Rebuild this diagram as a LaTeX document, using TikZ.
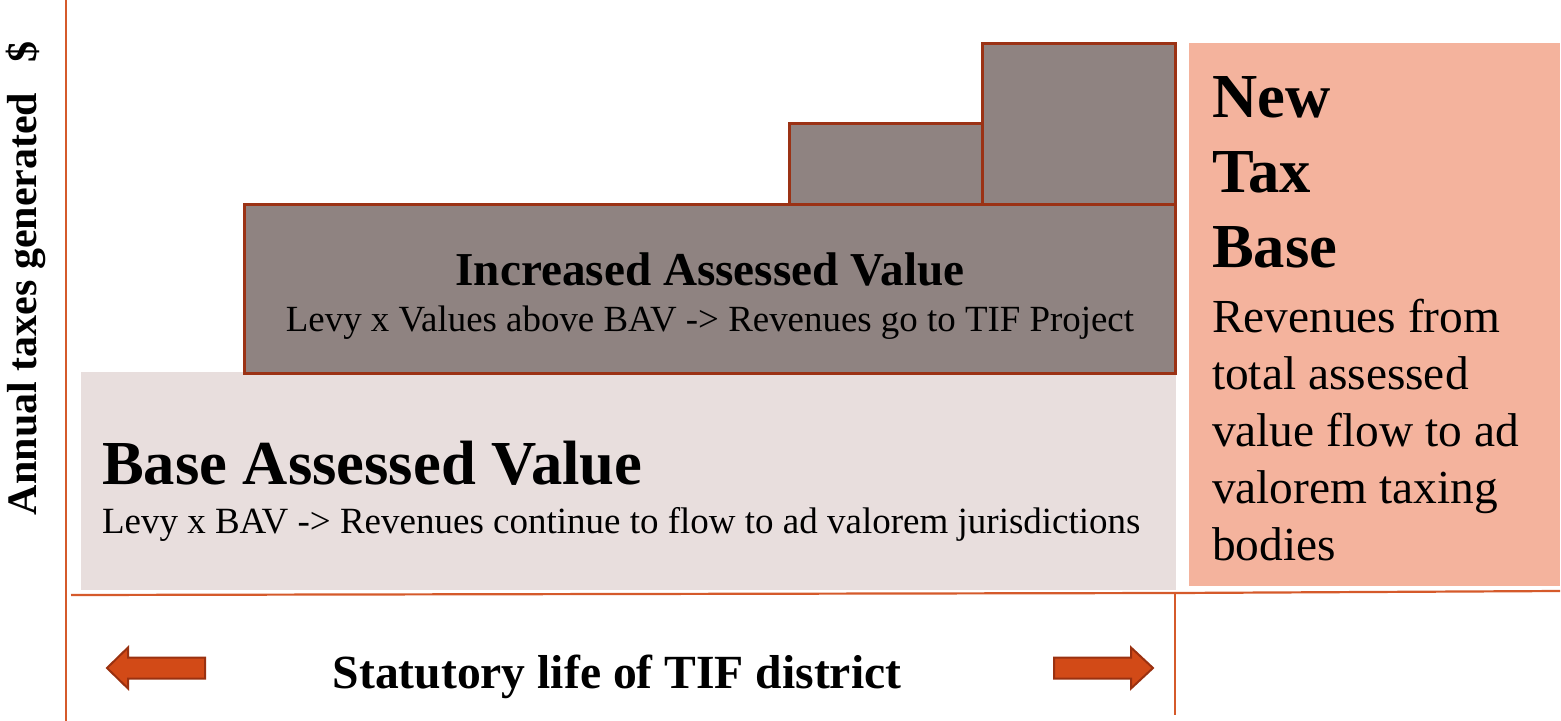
\documentclass[tikz,border=0pt]{standalone}
\usepackage{fontspec}
\setmainfont{Liberation Serif}
\definecolor{axisc}{HTML}{D55A2B}
\definecolor{boxborder}{HTML}{9B3215}
\definecolor{grayfill}{HTML}{8F8381}
\definecolor{lightfill}{HTML}{E8DEDD}
\definecolor{salmon}{HTML}{F4B39D}
\definecolor{arrowfill}{HTML}{D24A17}
\definecolor{arrowdraw}{HTML}{9A3110}
\begin{document}
\begin{tikzpicture}[x=0.5pt,y=-0.5pt,
  axisline/.style={draw=axisc,line width=1.1pt},
  incbox/.style={fill=grayfill,draw=boxborder,line width=1.5pt},
  basebox/.style={fill=lightfill},
  newbox/.style={fill=salmon},
  bigarrow/.style={fill=arrowfill,draw=arrowdraw,line width=1pt,line join=miter},
  txt/.style={inner sep=0pt,outer sep=0pt}]
\useasboundingbox (0,0) rectangle (1561,721);
% boxes
\path[basebox] (81,372) rectangle (1176,590);
\path[incbox] (244,205) rectangle (1175,373);
\path[incbox] (789,124) rectangle (982,205);
\path[incbox] (982,44) rectangle (1175,205);
\path[newbox] (1189,43) rectangle (1560,586);
% axis lines
\coordinate (axT) at (66,0);
\coordinate (axB) at (66,721);
\draw[axisline] (axT) -- (axB);
\coordinate (hL) at (71,595);
\coordinate (hM) at (1175,593);
\coordinate (hR) at (1560,591);
\draw[axisline] (hL) -- (hM);
\draw[axisline] (hM) -- (hR);
\coordinate (vB) at (1175,715);
\draw[axisline] (hM) -- (vB);
% arrows
\path[bigarrow] (107,668) -- (128,647.5) -- (128,657.5) -- (205,657.5) -- (205,678.5) -- (128,678.5) -- (128,688.5) -- cycle;
\path[bigarrow] (1153,668) -- (1131,647.5) -- (1131,657.5) -- (1054,657.5) -- (1054,678.5) -- (1131,678.5) -- (1131,688.5) -- cycle;
% texts
\node[txt,anchor=base] (inc) at (710,286) {\fontsize{23.6pt}{28pt}\selectfont\bfseries Increased Assessed Value};
\node[txt,anchor=base] (incsub) at (710,331) {\fontsize{18.45pt}{22pt}\selectfont Levy x Values above BAV -> Revenues go to TIF Project};
\node[txt,anchor=base west] (base) at (102,484) {\fontsize{31.3pt}{37pt}\selectfont\bfseries Base Assessed Value};
\node[txt,anchor=base west] (basesub) at (102,533) {\fontsize{18.5pt}{22pt}\selectfont Levy x BAV -> Revenues continue to flow to ad valorem jurisdictions};
\node[txt,anchor=base west] (n1) at (1212,118) {\fontsize{31.3pt}{37pt}\selectfont\bfseries New};
\node[txt,anchor=base west] (n2) at (1212,193) {\fontsize{31.3pt}{37pt}\selectfont\bfseries Tax};
\node[txt,anchor=base west] (n3) at (1212,268) {\fontsize{31.3pt}{37pt}\selectfont\bfseries Base};
\node[txt,anchor=base west] (r1) at (1212,332) {\fontsize{23.7pt}{28pt}\selectfont Revenues from};
\node[txt,anchor=base west] (r2) at (1212,389) {\fontsize{23.7pt}{28pt}\selectfont total assessed};
\node[txt,anchor=base west] (r3) at (1212,446) {\fontsize{23.7pt}{28pt}\selectfont value flow to ad};
\node[txt,anchor=base west] (r4) at (1212,503) {\fontsize{23.7pt}{28pt}\selectfont valorem taxing};
\node[txt,anchor=base west] (r5) at (1212,560) {\fontsize{23.7pt}{28pt}\selectfont bodies};
\node[txt,anchor=base] (stat) at (617,688) {\fontsize{23.8pt}{28pt}\selectfont\bfseries Statutory life of TIF district};
\node[txt,anchor=base west,rotate=90] (ylab) at (36,515) {\fontsize{21pt}{25pt}\selectfont\bfseries Annual taxes generated};
\node[txt,anchor=base west,rotate=90] (ydol) at (36,63) {\fontsize{21pt}{25pt}\selectfont\bfseries \$};
\end{tikzpicture}
\end{document}
